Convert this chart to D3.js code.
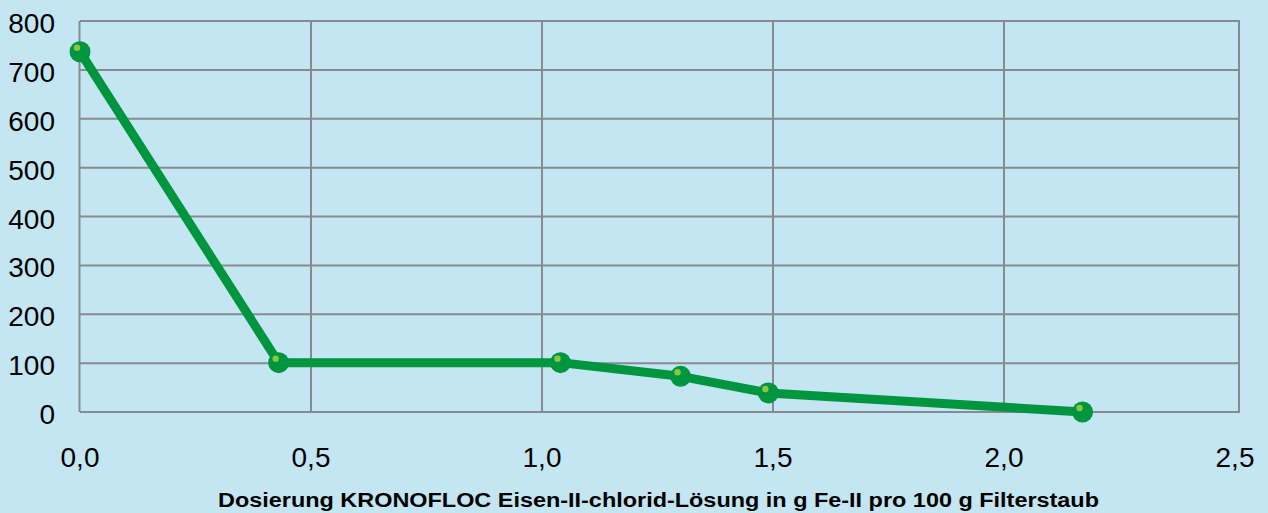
<!DOCTYPE html>
<html><head><meta charset="utf-8">
<script src="https://cdn.jsdelivr.net/npm/d3@7"></script>
<style>html,body{margin:0;padding:0;background:#c3e6f2;}svg{display:block;}</style>
</head><body>
<svg id="chart" width="1268" height="513"></svg>
<script>
const xValues = [0, 0.43, 1.04, 1.30, 1.49, 2.17];
const yValues = [737, 101, 101, 73, 39, 0];
const xTicks = [0, 0.5, 1.0, 1.5, 2.0, 2.5];
const yTicks = [0, 100, 200, 300, 400, 500, 600, 700, 800];
const xTitle = "Dosierung KRONOFLOC Eisen-II-chlorid-Lösung in g Fe-II pro 100 g Filterstaub";

const svg = d3.select("#chart");
const W = 1268, H = 513;
svg.append("rect").attr("width", W).attr("height", H).attr("fill", "#c3e6f2");

const x = d3.scaleLinear().domain([0, 2.5]).range([80, 1235]);
const y = d3.scaleLinear().domain([0, 800]).range([412, 21]);
const fmt = d => d3.format(".1f")(d).replace(".", ",");
const grid = "#878b8f";
const font = "Liberation Sans, Arial, sans-serif";

// horizontal gridlines
svg.append("g").selectAll("line").data(yTicks).join("line")
  .attr("x1", x(0)).attr("x2", 1239)
  .attr("y1", d => y(d)).attr("y2", d => y(d))
  .attr("stroke", grid).attr("stroke-width", 2);
// vertical gridlines
svg.append("g").selectAll("line").data(xTicks.slice(1, -1)).join("line")
  .attr("x1", d => x(d)).attr("x2", d => x(d))
  .attr("y1", y(800)).attr("y2", y(0))
  .attr("stroke", grid).attr("stroke-width", 2);
// frame left/right
svg.append("line").attr("x1", x(0) - 0.5).attr("x2", x(0) - 0.5).attr("y1", y(800)).attr("y2", y(0)).attr("stroke", grid).attr("stroke-width", 2);
svg.append("line").attr("x1", 1239).attr("x2", 1239).attr("y1", y(800) - 1).attr("y2", y(0) + 1).attr("stroke", grid).attr("stroke-width", 2);

// y tick labels
svg.append("g").selectAll("text").data(yTicks).join("text")
  .attr("x", 55).attr("y", d => y(d)).attr("dy", "0.43em")
  .attr("text-anchor", "end").attr("font-family", font).attr("font-size", 28)
  .attr("fill", "#000").text(d => d);
// x tick labels
svg.append("g").selectAll("text").data(xTicks).join("text")
  .attr("x", d => x(d)).attr("y", 467)
  .attr("text-anchor", "middle").attr("font-family", font).attr("font-size", 28)
  .attr("fill", "#000").text(fmt);
// x title
svg.append("text").attr("x", 218).attr("y", 507)
  .attr("textLength", 881).attr("lengthAdjust", "spacingAndGlyphs")
  .attr("font-family", font).attr("font-weight", "bold").attr("font-size", 20)
  .attr("fill", "#000").text(xTitle);

const pts = xValues.map((v, i) => [v, yValues[i]]);
const green = "#009640";
svg.append("path").datum(pts)
  .attr("d", d3.line().x(d => x(d[0])).y(d => y(d[1])))
  .attr("fill", "none").attr("stroke", green).attr("stroke-width", 9).attr("stroke-linejoin", "round");
svg.append("g").selectAll("circle").data(pts).join("circle")
  .attr("cx", d => x(d[0])).attr("cy", d => y(d[1])).attr("r", 10.5).attr("fill", green);
svg.append("g").selectAll("circle").data(pts).join("circle")
  .attr("cx", d => x(d[0]) - 3).attr("cy", d => y(d[1]) - 4).attr("r", 3.2).attr("fill", "#8dc63f");
</script>
</body></html>
